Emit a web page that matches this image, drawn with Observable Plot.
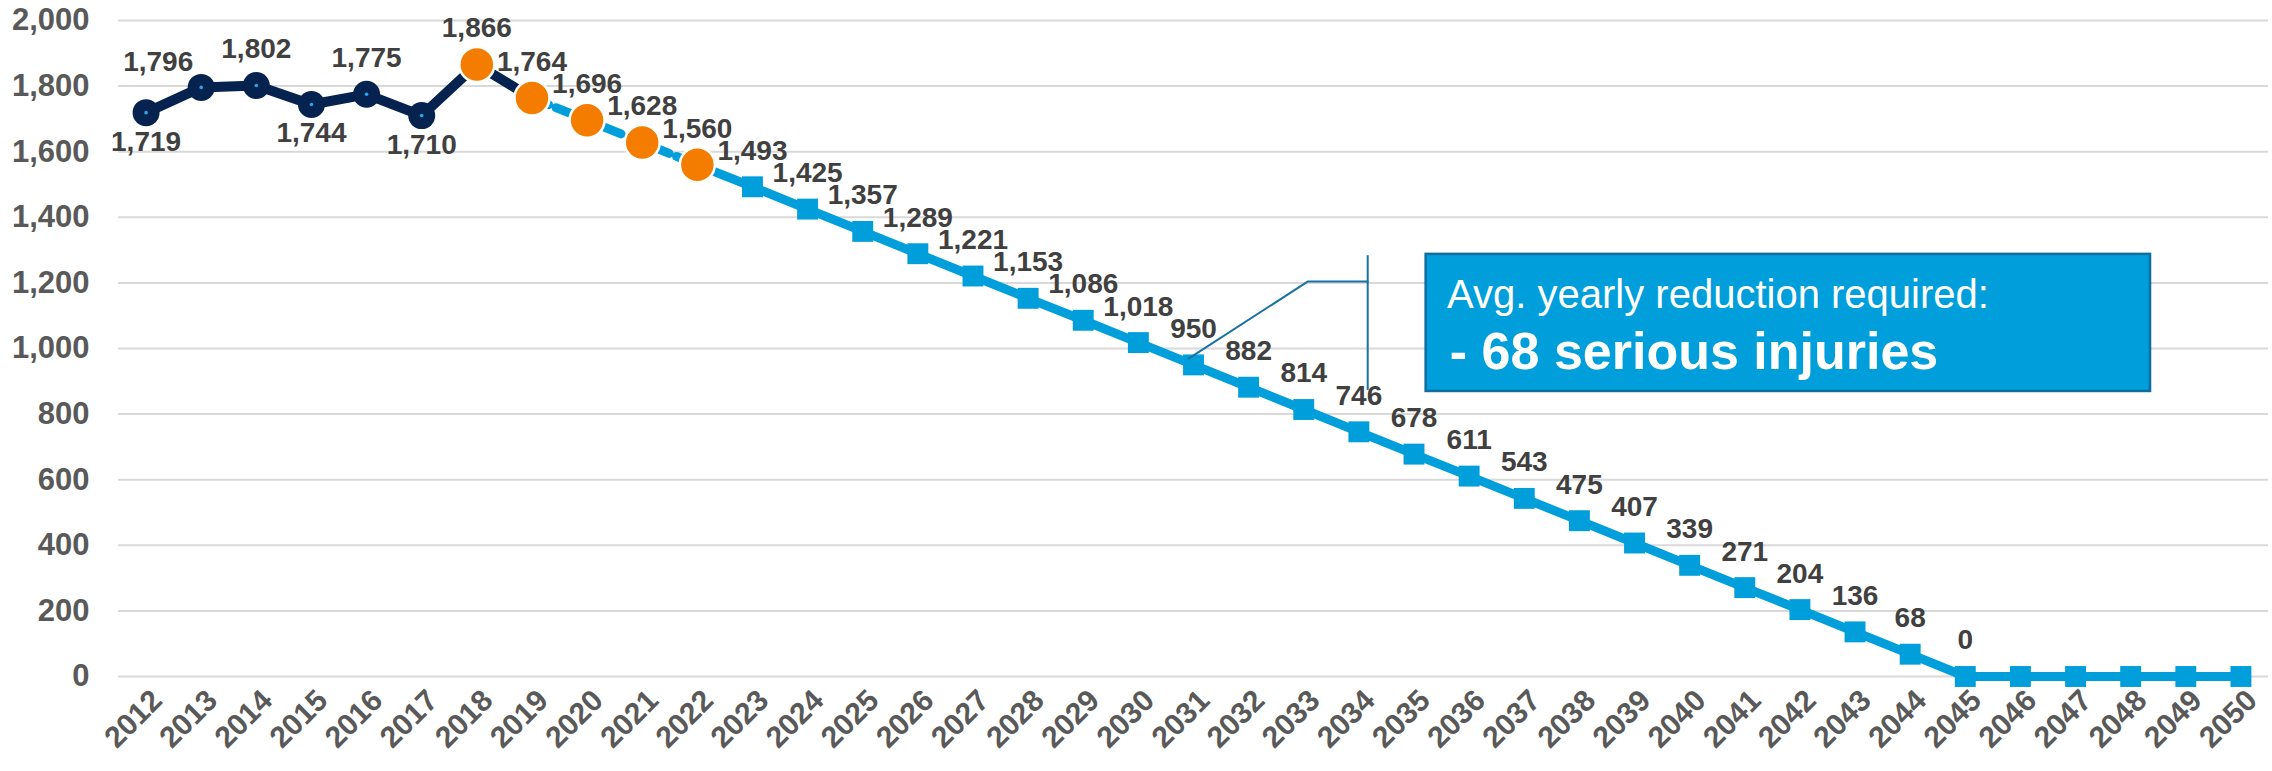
<!DOCTYPE html>
<html>
<head>
<meta charset="utf-8">
<script src="https://cdn.jsdelivr.net/npm/d3@7"></script>
<script src="https://cdn.jsdelivr.net/npm/@observablehq/plot@0.6"></script>
<style>
  html, body { margin: 0; padding: 0; background: #ffffff; }
  #chart svg { display: block; }
</style>
</head>
<body>
<div id="chart"></div>
<script>
// ---- Data ----
const years = [2012, 2013, 2014, 2015, 2016, 2017, 2018, 2019, 2020, 2021, 2022, 2023, 2024, 2025,
  2026, 2027, 2028, 2029, 2030, 2031, 2032, 2033, 2034, 2035, 2036, 2037, 2038, 2039, 2040,
  2041, 2042, 2043, 2044, 2045, 2046, 2047, 2048, 2049, 2050];

const actualYears = [2012, 2013, 2014, 2015, 2016, 2017, 2018, 2019];
const actualValues = [1719, 1796, 1802, 1744, 1775, 1710, 1866, 1764];

const highlightYears = [2018, 2019, 2020, 2021, 2022];
const highlightValues = [1866, 1764, 1696, 1628, 1560];

const targetYears = [2019, 2020, 2021, 2022, 2023, 2024, 2025, 2026, 2027, 2028, 2029, 2030,
  2031, 2032, 2033, 2034, 2035, 2036, 2037, 2038, 2039, 2040, 2041, 2042, 2043, 2044, 2045,
  2046, 2047, 2048, 2049, 2050];
const targetValues = [1764, 1696, 1628, 1560, 1493, 1425, 1357, 1289, 1221, 1153, 1086, 1018,
  950, 882, 814, 746, 678, 611, 543, 475, 407, 339, 271, 204, 136, 68, 0,
  0, 0, 0, 0, 0];

const yTicks = [0, 200, 400, 600, 800, 1000, 1200, 1400, 1600, 1800, 2000];

const calloutLine1 = "Avg. yearly reduction required:";
const calloutLine2 = "- 68 serious injuries";

// ---- Build tables ----
const actual = actualYears.map((year, i) => ({year, value: actualValues[i]}));
const highlight = highlightYears.map((year, i) => ({year, value: highlightValues[i]}));
const target = targetYears.map((year, i) => ({year, value: targetValues[i]}));

const targetDashed = target.filter(d => d.year <= 2022);
const targetSolid = target.filter(d => d.year >= 2022);
const targetSquares = target.filter(d => d.year >= 2023);
const navyDots = actual.filter(d => d.year <= 2017);

// label placement: observed years alternate above/below, projected years above
const observedLabels = actual.filter(d => d.year <= 2018).map((d, i, a) => ({
  ...d, pos: (i === 0 || d.value < a[i - 1].value) ? "below" : "above"
}));
const projectedLabels = target.filter(d => d.year <= 2045);
const nudged = new Set([2013]);
const labelsAbove = observedLabels.filter(d => d.pos === "above" && !nudged.has(d.year)).concat(projectedLabels);
const labelsBelow = observedLabels.filter(d => d.pos === "below");
const labelsNudged = observedLabels.filter(d => nudged.has(d.year));

const fmt = d3.format(",");
const NAVY = "#06234F";
const BLUE = "#009FDB";
const ORANGE = "#F47D00";
const LEADER = "#1673A3";

// callout geometry in data units
const box = {x1: 2035.22, x2: 2048.36, y1: 869, y2: 1287};

const labelStyle = {fontSize: 28, fontWeight: "bold", fill: "#404040"};

const chart = Plot.plot({
  width: 2272,
  height: 771,
  marginTop: 20,
  marginBottom: 95,
  marginLeft: 118,
  marginRight: 4,
  style: {fontFamily: "'Liberation Sans', Arial, sans-serif", background: "#ffffff", overflow: "visible"},
  x: {domain: [2011.5, 2050.5], axis: null},
  y: {domain: [0, 2000], axis: null},
  marks: [
    Plot.ruleY(yTicks, {stroke: "#D9D9D9", strokeWidth: 2}),
    Plot.axisY({ticks: yTicks, tickSize: 0, tickPadding: 29, tickFormat: fmt,
      fontSize: 31, fontWeight: "bold", color: "#595959"}),
    Plot.axisX({ticks: years, tickSize: 0, tickPadding: 14, tickRotate: -45, tickFormat: d => String(d),
      dx: 11, dy: 5, fontSize: 30, fontWeight: "bold", color: "#595959"}),

    Plot.line(actual, {x: "year", y: "value", stroke: NAVY, strokeWidth: 10, strokeLinejoin: "round"}),
    Plot.line(targetDashed, {x: "year", y: "value", stroke: BLUE, strokeWidth: 9, strokeDasharray: "18,8"}),
    Plot.line(targetSolid, {x: "year", y: "value", stroke: BLUE, strokeWidth: 9}),

    Plot.dot(navyDots, {x: "year", y: "value", r: 13.5, fill: NAVY}),
    Plot.dot(navyDots, {x: "year", y: "value", r: 1.8, fill: "#2AA8E0"}),
    Plot.dot(highlight, {x: "year", y: "value", r: 17.5, fill: ORANGE, stroke: "#ffffff", strokeWidth: 2.5}),
    Plot.dot(targetSquares, {x: "year", y: "value", symbol: "square", r: 11.8, fill: BLUE}),

    Plot.text(labelsAbove, {x: "year", y: "value", text: d => fmt(d.value), dy: -36, ...labelStyle}),
    Plot.text(labelsBelow, {x: "year", y: "value", text: d => fmt(d.value), dy: 29, ...labelStyle}),
    Plot.text(labelsNudged, {x: "year", y: "value", text: d => fmt(d.value), dx: -43, dy: -25, ...labelStyle}),

    // callout leader
    Plot.line([{x: 2030.91, y: 969}, {x: 2033.07, y: 1204}, {x: 2034.16, y: 1204}],
      {x: "x", y: "y", stroke: LEADER, strokeWidth: 2}),
    Plot.ruleX([2034.16], {y1: 872, y2: 1283, stroke: LEADER, strokeWidth: 2}),

    // callout box
    Plot.rect([box], {x1: "x1", x2: "x2", y1: "y1", y2: "y2", fill: BLUE, stroke: "#0F6E9E", strokeWidth: 2.5}),
    Plot.text([calloutLine1], {x: 2035.6, y: 1122, text: d => d, textAnchor: "start", lineAnchor: "bottom",
      fontSize: 40, fill: "#ffffff"}),
    Plot.text([calloutLine2], {x: 2035.65, y: 939, text: d => d, textAnchor: "start", lineAnchor: "bottom",
      fontSize: 52, fontWeight: "bold", fill: "#ffffff"})
  ]
});

document.getElementById("chart").appendChild(chart);
</script>
</body>
</html>
